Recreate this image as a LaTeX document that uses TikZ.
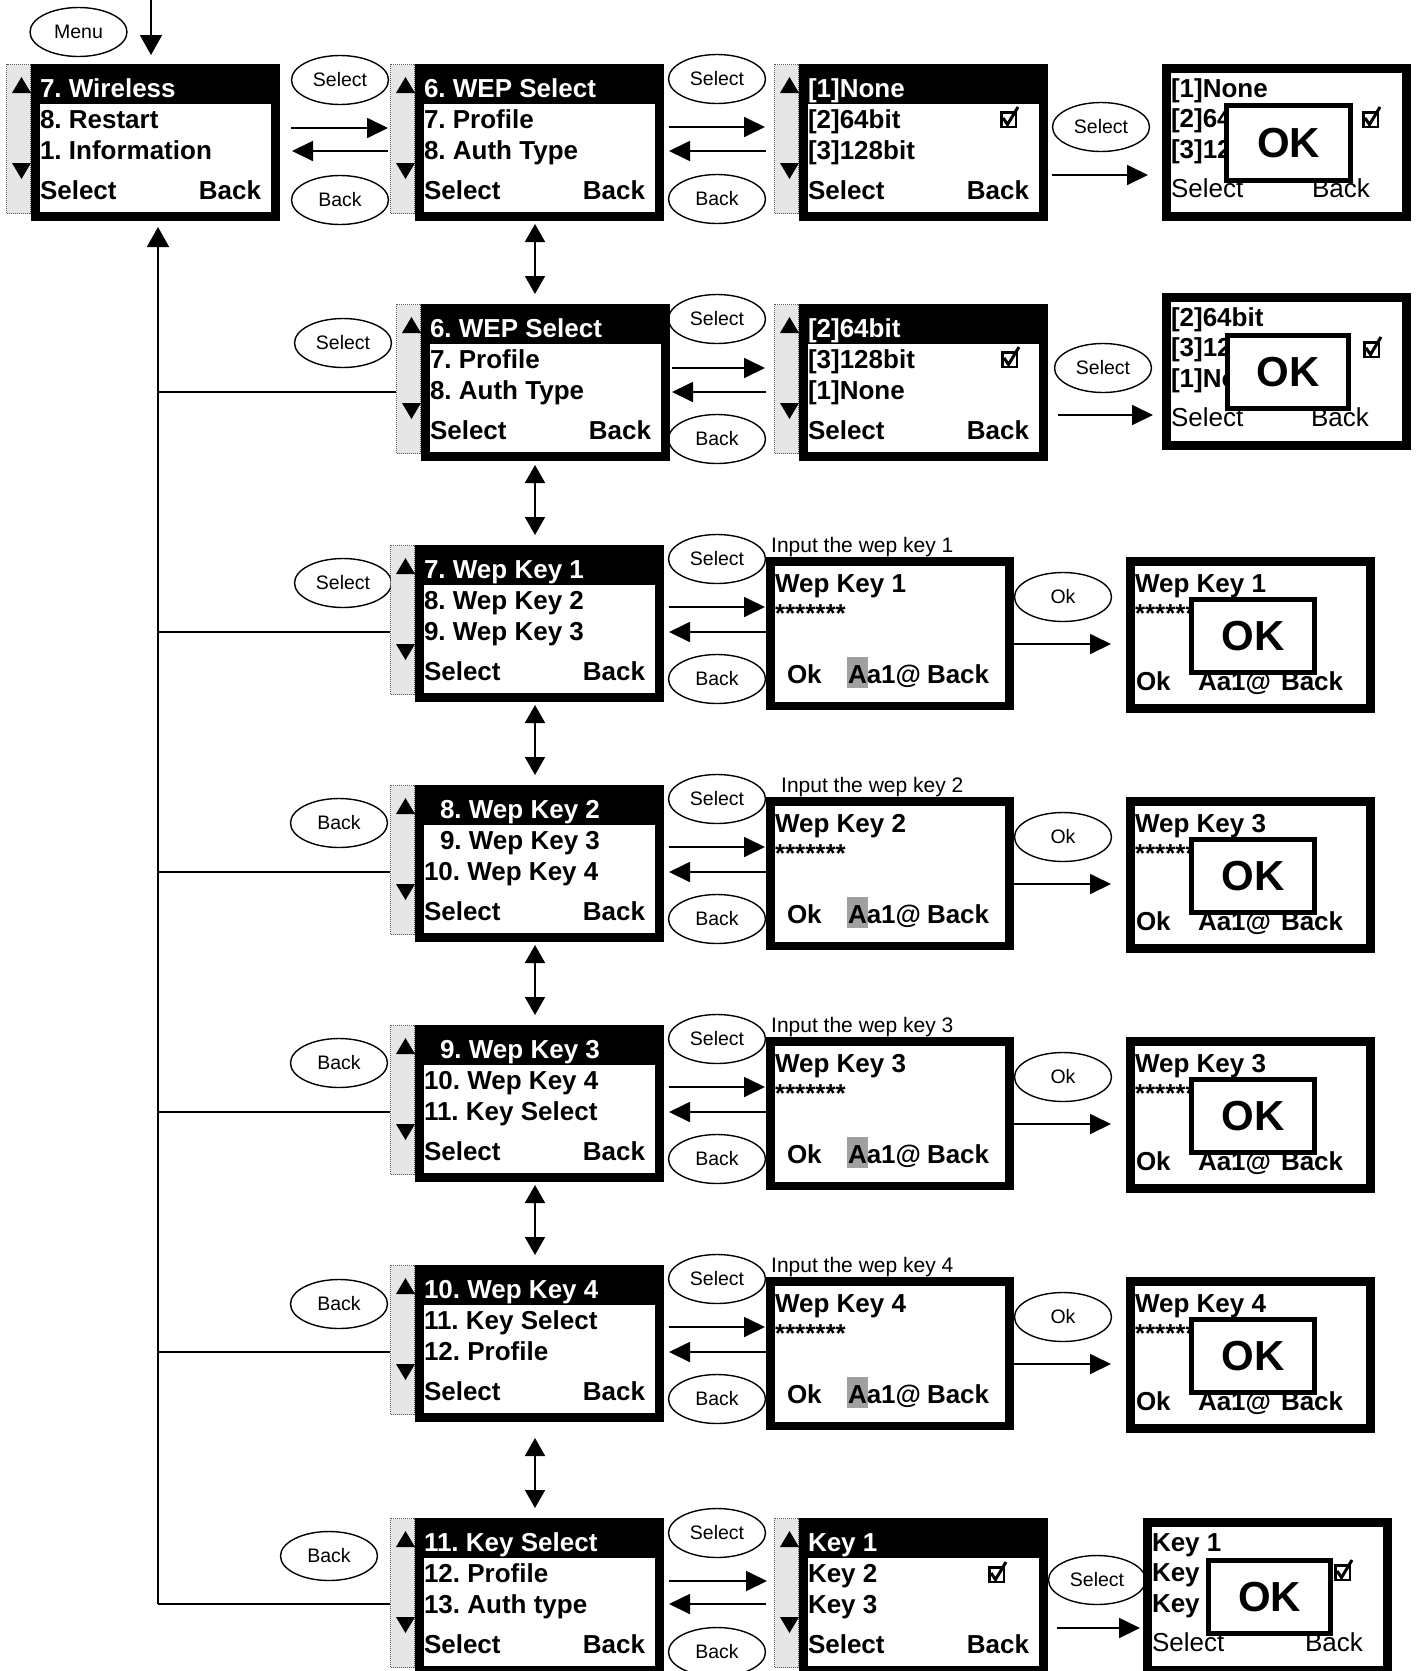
\documentclass[tikz,border=0pt]{standalone}
\usepackage{fontspec}
\setmainfont{Liberation Sans}
\usetikzlibrary{arrows.meta,shapes.geometric}
\definecolor{scrollgray}{RGB}{230,230,230}
\definecolor{hlgray}{RGB}{160,160,160}
\definecolor{dotgray}{RGB}{90,90,90}
\newcommand\fs[1]{\fontsize{#1}{#1}\selectfont}
\frenchspacing
\tikzset{
 lcd/.style={fill=black, draw=none, inner sep=0pt, outer sep=0pt, anchor=north west},
 sbar/.style={fill=scrollgray, draw=dotgray, densely dotted, line width=1pt, inner sep=0pt, minimum width=24, minimum height=149, anchor=north east},
 txt/.style={inner sep=0pt, outer sep=0pt, font=\fs{26}\bfseries, anchor=base west},
 rtxt/.style={inner sep=0pt, outer sep=0pt, font=\fs{26}, anchor=base west},
 btn/.style={ellipse, draw, line width=1.4pt, minimum width=97, minimum height=49, inner sep=0pt, font=\fs{19.5}},
 okbox/.style={draw, fill=white, line width=5pt, inner sep=0pt, font=\fs{42}\bfseries},
 chksq/.style={draw, line width=2.8pt, inner sep=0pt, minimum width=14.2, minimum height=14.2, anchor=north west},
 chkmark/.style={line width=3pt, line join=miter},
 conn/.style={line width=1.8pt, -{Triangle[length=21pt,width=20pt]}},
 vconn/.style={line width=1.8pt, -{Triangle[length=20pt,width=22pt]}},
 dconn/.style={line width=1.8pt, {Triangle[length=18pt,width=20pt]}-{Triangle[length=18pt,width=20pt]}},
 branch/.style={line width=1.6pt},
 lbl/.style={inner sep=0pt, font=\fs{21}, anchor=base west},
}
% check box: name, left, top of the square
\newcommand\chkbox[3]{%
 \node[chksq] (#1) at ({#2+1.4},{#3+1.4}) {};
 \draw[chkmark] ({#2+4},{#3+8}) -- ({#2+8.5},{#3+14.5}) -- ({#2+19},{#3-3});
}
% list screen with scroll bar: name, x, top, line1, line2, line3
\newcommand\listscr[6]{%
 \node[sbar] (#1bar) at (#2,#3) {};
 \fill ({#2-19},{#3+29}) -- ({#2},{#3+29}) -- ({#2-9.5},{#3+13}) -- cycle;
 \fill ({#2-19},{#3+99}) -- ({#2},{#3+99}) -- ({#2-9.5},{#3+115}) -- cycle;
 \node[lcd, minimum width=249, minimum height=157] (#1) at (#2,#3) {};
 \fill[white] ({#2+9},{#3+40}) rectangle ({#2+240},{#3+148});
 \node[txt, text=white] (#1t1) at ({#2+9},{#3+33}) {#4};
 \node[txt] (#1t2) at ({#2+9},{#3+64}) {#5};
 \node[txt] (#1t3) at ({#2+9},{#3+95}) {#6};
 \node[txt] (#1sel) at ({#2+9},{#3+135}) {Select};
 \node[txt, anchor=base east] (#1bk) at ({#2+230},{#3+135}) {Back};
}
% result list screen: name, x, top, l1, l2, l3, x of Back
\newcommand\lres[7]{%
 \node[lcd, minimum width=249, minimum height=157] (#1) at (#2,#3) {};
 \fill[white] ({#2+9},{#3+9}) rectangle ({#2+240},{#3+148});
 \node[txt] (#1t1) at ({#2+9},{#3+33}) {#4};
 \node[txt] (#1t2) at ({#2+9},{#3+63}) {#5};
 \node[txt] (#1t3) at ({#2+9},{#3+94}) {#6};
 \node[rtxt] (#1sel) at ({#2+9},{#3+133}) {Select};
 \node[rtxt] (#1bk) at (#7,{#3+133}) {Back};
}
% horizontal arrow: name, x1, x2, y
\newcommand\harrow[4]{%
 \coordinate (#1a) at ({#2},{#4});
 \coordinate (#1b) at ({#3},{#4});
 \draw[conn] (#1a) -- (#1b);
}
% wep key input screen: name, top, title
\newcommand\wepscr[3]{%
 \node[lcd, minimum width=248, minimum height=153] (#1) at (766,{#2+12}) {};
 \fill[white] (775,{#2+21}) rectangle (1005,{#2+157});
 \node[txt] (#1t) at (775,{#2+47}) {#3};
 \node[txt] (#1s) at (775,{#2+77}) {*******};
 \fill[hlgray] (847,{#2+112}) rectangle (868,{#2+143});
 \node[txt] (#1ok) at (787,{#2+138}) {Ok};
 \node[txt] (#1a) at (848,{#2+138}) {Aa1@};
 \node[txt] (#1b) at (927,{#2+138}) {Back};
}
% wep key result screen: name, top, title
\newcommand\wepres[3]{%
 \node[lcd, minimum width=249, minimum height=156] (#1) at (1126,{#2+12}) {};
 \fill[white] (1135,{#2+21}) rectangle (1366,{#2+159});
 \node[txt] (#1t) at (1135,{#2+47}) {#3};
 \node[txt] (#1s) at (1135,{#2+77}) {*******};
 \node[txt] (#1ok) at (1136,{#2+145}) {Ok};
 \node[txt] (#1a) at (1198,{#2+145}) {Aa1@};
 \node[txt] (#1b) at (1281,{#2+145}) {Back};
 \node[okbox, minimum width=123, minimum height=73] (#1box) at (1253,{#2+91}) {OK};
}
% one wep key row: row, top, l1, l2, l3, wep title, result title, label, label x
\newcommand\weprow[9]{%
 \listscr{s#1}{415}{#2}{#3}{#4}{#5}
 \coordinate (b#1) at (158,{#2+87});
 \draw[branch] (b#1) -- (b#1 -| s#1bar.west);
 \node[btn] (sel#1) at (717,{#2+14}) {Select};
 \node[btn] (bk#1) at (717,{#2+134}) {Back};
 \harrow{a#1r}{669}{765}{#2+62}
 \harrow{a#1l}{766}{669}{#2+87}
 \node[lbl] (lbl#1) at (#9,{#2+7.5}) {#8};
 \wepscr{w#1}{#2}{#6}
 \node[btn] (okb#1) at (1063,{#2+52}) {Ok};
 \harrow{a#1o}{1014}{1111}{#2+99}
 \wepres{x#1}{#2}{#7}
}
\begin{document}
\begin{tikzpicture}[x=1pt,y=-1pt]
\fill[white] (0,0) rectangle (1422,1671);
\useasboundingbox (0,0) rectangle (1422,1671);

% ---------- row 1 ----------
\node[btn] (menu) at (78.5,32) {Menu};
\coordinate (m0) at (151,-2);
\coordinate (m1) at (151,55);
\draw[vconn] (m0) -- (m1);
\listscr{s11}{31}{64}{7. Wireless}{8. Restart}{1. Information}
\node[btn] (sel11) at (340,80) {Select};
\node[btn] (bk11) at (340,200) {Back};
\harrow{a11}{291}{388}{128}
\harrow{a12}{388}{292}{151}
\listscr{s12}{415}{64}{6. WEP Select}{7. Profile}{8. Auth Type}
\node[btn] (sel12) at (717,79) {Select};
\node[btn] (bk12) at (717,199) {Back};
\harrow{a13}{669}{765}{127}
\harrow{a14}{766}{669}{151}
\listscr{s13}{799}{64}{[1]None}{[2]64bit}{[3]128bit}
\chkbox{c13}{999}{110}
\node[btn] (sel13) at (1101,127) {Select};
\harrow{a15}{1052}{1148}{175}
\lres{r1}{1162}{64}{[1]None}{[2]64bit}{[3]128bit}{1312}
\chkbox{c14}{1361}{110}
\node[okbox, minimum width=124, minimum height=75] (ok1) at (1288.5,143) {OK};

% ---------- row 2 ----------
\node[btn] (sel21) at (343,343) {Select};
\listscr{s21}{421}{304}{6. WEP Select}{7. Profile}{8. Auth Type}
\coordinate (b2) at (158,392);
\draw[branch] (b2) -- (b2 -| s21bar.west);
\node[btn] (sel22) at (717,319) {Select};
\node[btn] (bk22) at (717,439) {Back};
\harrow{a21}{672}{765}{368}
\harrow{a22}{766}{672}{392}
\listscr{s22}{799}{304}{[2]64bit}{[3]128bit}{[1]None}
\chkbox{c22}{1000}{350}
\node[btn] (sel23) at (1103,368) {Select};
\harrow{a23}{1058}{1153}{415}
\lres{r2}{1162}{293}{[2]64bit}{[3]128bit}{[1]None}{1311}
\chkbox{c23}{1362}{340}
\node[okbox, minimum width=121, minimum height=73] (ok2) at (1288,372) {OK};

% ---------- rows 3-6 ----------
\node[btn] (lb3) at (343,583) {Select};
\weprow{3}{545}{7. Wep Key 1}{8. Wep Key 2}{9. Wep Key 3}{Wep Key 1}{Wep Key 1}{Input the wep key 1}{771}
\node[btn] (lb4) at (339,823) {Back};
\weprow{4}{785}{\hspace{16pt}8. Wep Key 2}{\hspace{16pt}9. Wep Key 3}{10. Wep Key 4}{Wep Key 2}{Wep Key 3}{Input the wep key 2}{781}
\node[btn] (lb5) at (339,1063) {Back};
\weprow{5}{1025}{\hspace{16pt}9. Wep Key 3}{10. Wep Key 4}{11. Key Select}{Wep Key 3}{Wep Key 3}{Input the wep key 3}{771}
\node[btn] (lb6) at (339,1304) {Back};
\weprow{6}{1265}{10. Wep Key 4}{11. Key Select}{12. Profile}{Wep Key 4}{Wep Key 4}{Input the wep key 4}{771}

% ---------- row 7 ----------
\node[btn] (lb7) at (329,1556) {Back};
\listscr{s7}{415}{1518}{11. Key Select}{12. Profile}{13. Auth type}
\coordinate (b7) at (158,1604);
\draw[branch] (b7) -- (b7 -| s7bar.west);
\coordinate (vtop) at (158,227);
\draw[vconn] (b7) -- (vtop);
\node[btn] (sel7) at (717,1533) {Select};
\node[btn] (bk7) at (717,1652) {Back};
\harrow{a7r}{669}{767}{1581}
\harrow{a7l}{766}{669}{1604}
\listscr{s73}{799}{1518}{Key 1}{Key 2}{Key 3}
\chkbox{c73}{987}{1565}
\node[btn] (sel73) at (1097,1580) {Select};
\harrow{a73}{1057}{1140}{1628}
\lres{r7}{1143}{1518}{Key 1}{Key 2}{Key 3}{1305}
\chkbox{c74}{1333}{1563}
\node[okbox, minimum width=122, minimum height=73] (ok7) at (1269.5,1597) {OK};

% ---------- vertical double arrows ----------
\coordinate (d1a) at (535,224); \coordinate (d1b) at (535,294);
\draw[dconn] (d1a) -- (d1b);
\coordinate (d2a) at (535,465); \coordinate (d2b) at (535,535);
\draw[dconn] (d2a) -- (d2b);
\coordinate (d3a) at (535,705); \coordinate (d3b) at (535,775);
\draw[dconn] (d3a) -- (d3b);
\coordinate (d4a) at (535,945); \coordinate (d4b) at (535,1015);
\draw[dconn] (d4a) -- (d4b);
\coordinate (d5a) at (535,1185); \coordinate (d5b) at (535,1255);
\draw[dconn] (d5a) -- (d5b);
\coordinate (d6a) at (535,1438); \coordinate (d6b) at (535,1508);
\draw[dconn] (d6a) -- (d6b);
\end{tikzpicture}
\end{document}
